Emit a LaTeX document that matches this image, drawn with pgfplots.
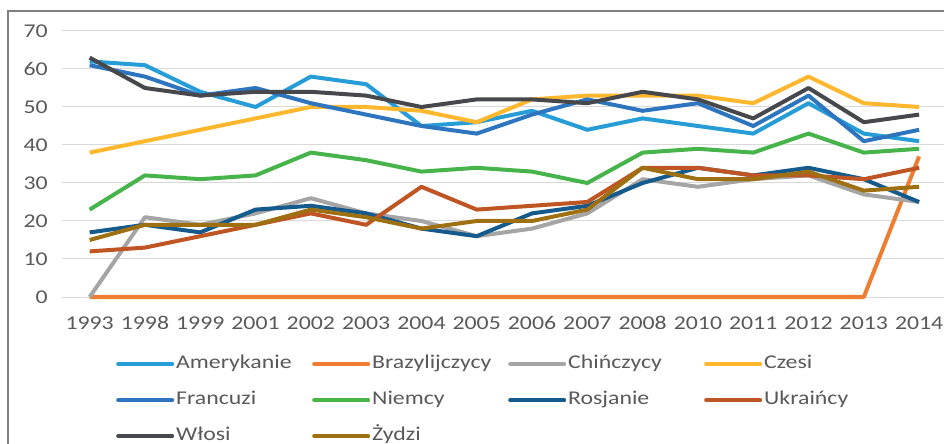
\documentclass[border=0pt]{standalone}
\usepackage{pgfplots}
\pgfplotsset{compat=1.18}
\usepackage{fontspec}
\setmainfont{Carlito}[FakeStretch=1.22]
\definecolor{cAm}{RGB}{39,157,216}
\definecolor{cBr}{RGB}{237,125,49}
\definecolor{cCh}{RGB}{165,165,165}
\definecolor{cCz}{RGB}{255,183,45}
\definecolor{cFr}{RGB}{46,117,192}
\definecolor{cNi}{RGB}{70,180,75}
\definecolor{cRo}{RGB}{20,90,140}
\definecolor{cUk}{RGB}{190,85,35}
\definecolor{cWl}{RGB}{70,72,75}
\definecolor{cZy}{RGB}{158,112,18}
\definecolor{gridc}{RGB}{217,217,217}
\definecolor{tickc}{RGB}{89,89,89}
\definecolor{framec}{RGB}{127,127,127}
\newcommand{\lt}[1]{\makebox[134bp][l]{#1}}
\begin{document}
\begin{tikzpicture}
\useasboundingbox (0,0) rectangle (944bp,444bp);
\clip (0,0) rectangle (944bp,444bp);
\draw[color=framec, line width=1.5bp] (8bp,-20bp) rectangle (990bp,433bp);
\begin{axis}[
  at={(62bp,147bp)}, anchor=south west,
  scale only axis, width=882bp, height=266bp,
  xmin=-0.5, xmax=15.45, ymin=0, ymax=70,
  clip=false,
  axis line style={draw=none},
  ytick={0,10,...,70}, ymajorgrids, grid style={color=gridc, line width=1bp},
  xtick={0,...,15},
  xticklabels={1993,1998,1999,2001,2002,2003,2004,2005,2006,2007,2008,2010,2011,2012,2013,2014},
  major tick length=0pt,
  ticklabel style={font=\fontsize{19.5bp}{23bp}\selectfont, text=tickc},
  /pgf/number format/assume math mode=true,
  xticklabel style={anchor=base, yshift=-32bp},
  yticklabel style={anchor=east, inner sep=0pt, xshift=-14bp},
  every axis plot/.append style={line width=4bp, line join=round},
  legend columns=4,
  legend cell align=left,
  legend image code/.code={\draw[#1, line width=4bp, line cap=round] (1bp,0bp) -- (55bp,0bp);},
  legend style={at={(0.0612,-0.2218)}, anchor=north west, draw=none, fill=none,
    inner sep=0pt, row sep=20bp, column sep=2bp,
    font=\fontsize{19.5bp}{23bp}\selectfont, text=tickc,
    nodes={inner sep=0pt, text height=12bp, text depth=4bp}},
]
\addplot[cAm] coordinates {(0,62)(1,61)(2,54)(3,50)(4,58)(5,56)(6,45)(7,46)(8,49)(9,44)(10,47)(11,45)(12,43)(13,51)(14,43)(15,41)};
\addlegendentry{\lt{Amerykanie}}
\addplot[cBr] coordinates {(0,0)(1,0)(2,0)(3,0)(4,0)(5,0)(6,0)(7,0)(8,0)(9,0)(10,0)(11,0)(12,0)(13,0)(14,0)(15,37)};
\addlegendentry{\lt{Brazylijczycy}}
\addplot[cCh] coordinates {(0,0)(1,21)(2,19)(3,22)(4,26)(5,22)(6,20)(7,16)(8,18)(9,22)(10,31)(11,29)(12,31)(13,32)(14,27)(15,25)};
\addlegendentry{\lt{Chińczycy}}
\addplot[cCz] coordinates {(0,38)(1,41)(2,44)(3,47)(4,50)(5,50)(6,49)(7,46)(8,52)(9,53)(10,53)(11,53)(12,51)(13,58)(14,51)(15,50)};
\addlegendentry{\lt{Czesi}}
\addplot[cFr] coordinates {(0,61)(1,58)(2,53)(3,55)(4,51)(5,48)(6,45)(7,43)(8,48)(9,52)(10,49)(11,51)(12,45)(13,53)(14,41)(15,44)};
\addlegendentry{\lt{Francuzi}}
\addplot[cNi] coordinates {(0,23)(1,32)(2,31)(3,32)(4,38)(5,36)(6,33)(7,34)(8,33)(9,30)(10,38)(11,39)(12,38)(13,43)(14,38)(15,39)};
\addlegendentry{\lt{Niemcy}}
\addplot[cRo] coordinates {(0,17)(1,19)(2,17)(3,23)(4,24)(5,22)(6,18)(7,16)(8,22)(9,24)(10,30)(11,34)(12,32)(13,34)(14,31)(15,25)};
\addlegendentry{\lt{Rosjanie}}
\addplot[cUk] coordinates {(0,12)(1,13)(2,16)(3,19)(4,22)(5,19)(6,29)(7,23)(8,24)(9,25)(10,34)(11,34)(12,32)(13,32)(14,31)(15,34)};
\addlegendentry{\lt{Ukraińcy}}
\addplot[cWl] coordinates {(0,63)(1,55)(2,53)(3,54)(4,54)(5,53)(6,50)(7,52)(8,52)(9,51)(10,54)(11,52)(12,47)(13,55)(14,46)(15,48)};
\addlegendentry{\lt{Włosi}}
\addplot[cZy] coordinates {(0,15)(1,19)(2,19)(3,19)(4,23)(5,21)(6,18)(7,20)(8,20)(9,23)(10,34)(11,31)(12,31)(13,33)(14,28)(15,29)};
\addlegendentry{\lt{Żydzi}}
\end{axis}
\end{tikzpicture}
\end{document}
